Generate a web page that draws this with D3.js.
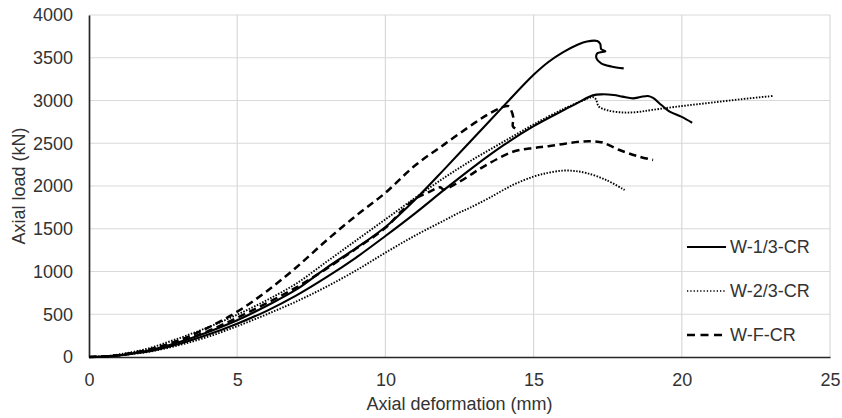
<!DOCTYPE html>
<html>
<head>
<meta charset="utf-8">
<script src="https://cdn.jsdelivr.net/npm/d3@7"></script>
<style>
  body { margin: 0; background: #fff; }
  svg { display: block; font-family: "Liberation Sans", Arial, sans-serif; }
</style>
</head>
<body>
<svg id="chart" width="842" height="418"></svg>
<script>
// Axis ticks and titles
const xTicks = [0, 5, 10, 15, 20, 25];
const yTicks = [0, 500, 1000, 1500, 2000, 2500, 3000, 3500, 4000];
const xTitle = "Axial deformation (mm)";
const yTitle = "Axial load (kN)";

// Load–deformation records, [deformation (mm), load (kN)]
const w13a = [[0,0],[0.5,5],[1,20],[1.5,45],[2,75],[3,170],[4,290],[5,430],[6,600],[7,790],[8,1040],[9,1270],[10,1520],[11,1840],[12,2200],[13,2570],[14,2940],[15,3300],[15.5,3450],[16,3565],[16.5,3655],[16.8,3690],[17.15,3695],[17.25,3660],[17.28,3600],[17.42,3575],[17.15,3552],[17.12,3495],[17.28,3435],[17.62,3398],[18.04,3376]];
const w13b = [[0,0],[0.5,5],[1,18],[1.5,40],[2,65],[3,150],[4,260],[5,390],[6,540],[7,720],[8,930],[9,1160],[10,1415],[11,1680],[12,1960],[13,2230],[14,2480],[15,2700],[16,2885],[16.5,2975],[17,3060],[17.3,3072],[17.7,3064],[18,3045],[18.35,3025],[18.6,3040],[18.86,3053],[19.03,3030],[19.31,2947],[19.59,2869],[19.98,2811],[20.35,2740]];
const w23a = [[0,0],[0.5,8],[1,30],[1.5,60],[2,100],[3,215],[4,345],[5,495],[6,665],[7,860],[8,1110],[9,1360],[10,1610],[11,1860],[12,2100],[13,2320],[14,2520],[15,2720],[16,2900],[16.6,2990],[17,3040],[17.1,3015],[17.2,2930],[17.5,2885],[18,2860],[18.5,2865],[19,2890],[20,2935],[21,2975],[22,3015],[23.07,3053]];
const w23b = [[0,0],[0.5,5],[1,18],[1.5,38],[2,60],[3,135],[4,235],[5,360],[6,500],[7,650],[8,820],[9,1010],[10,1220],[11,1420],[12,1600],[12.5,1690],[12.85,1745],[13.5,1860],[14.3,2012],[15,2110],[15.5,2155],[16,2180],[16.4,2175],[16.8,2150],[17.45,2070],[18.07,1953]];
const wfa = [[0,0],[0.5,6],[1,22],[1.5,50],[2,85],[3,190],[4,340],[5,530],[6,770],[7,1050],[8,1360],[9,1650],[10,1920],[11,2240],[12,2490],[13,2735],[13.5,2845],[13.9,2915],[14.15,2935],[14.25,2880],[14.32,2790],[14.3,2700],[14.45,2655]];
const wfb = [[0,0],[0.5,6],[1,22],[1.5,48],[2,80],[3,175],[4,300],[5,460],[6,630],[7,815],[8,1030],[9,1265],[10,1510],[10.5,1690],[11,1850],[11.5,1935],[11.85,1985],[11.95,1960],[12.5,2050],[13,2160],[13.4,2245],[14.3,2400],[15,2445],[15.5,2465],[16.55,2518],[17,2522],[17.34,2507],[17.9,2421],[18.5,2350],[19.03,2304]];

// Legend groups: one name per line style, two specimens each
const groupNames = ["W-1/3-CR", "W-2/3-CR", "W-F-CR"];
const groupRecords = [[w13a, w13b], [w23a, w23b], [wfa, wfb]];

const styles = [
  { width: 2.1, dash: null, legendWidth: 2, legendDash: null },
  { width: 1.9, dash: "1.5 1.5", legendWidth: 1.4, legendDash: "1.3 2" },
  { width: 2.5, dash: "7.5 4.5", legendWidth: 2.5, legendDash: "8 5.5" }
];

const W = 842, H = 418;
const margin = { top: 15, right: 12, bottom: 61, left: 89 };
const svg = d3.select("#chart");

const x = d3.scaleLinear().domain([0, 25]).range([margin.left, W - margin.right]);
const y = d3.scaleLinear().domain([0, 4000]).range([H - margin.bottom, margin.top]);

const gridColor = "#d9d9d9";
const textColor = "#333";
const axisColor = "#262626";

// Gridlines
svg.append("g").selectAll("line").data(yTicks.filter(d => d > 0)).join("line")
  .attr("x1", x(0)).attr("x2", x(25))
  .attr("y1", d => y(d)).attr("y2", d => y(d))
  .attr("stroke", gridColor).attr("stroke-width", 1.2);
svg.append("g").selectAll("line").data(xTicks.filter(d => d > 0)).join("line")
  .attr("x1", d => x(d)).attr("x2", d => x(d))
  .attr("y1", y(0)).attr("y2", y(4000))
  .attr("stroke", gridColor).attr("stroke-width", 1.2);

// Axes
const xAxis = svg.append("g")
  .attr("transform", `translate(0,${y(0)})`)
  .call(d3.axisBottom(x).tickValues(xTicks).tickSize(0).tickPadding(16).tickFormat(d3.format("d")));
const yAxis = svg.append("g")
  .attr("transform", `translate(${x(0)},0)`)
  .call(d3.axisLeft(y).tickValues(yTicks).tickSize(0).tickPadding(16).tickFormat(d3.format("d")));
[xAxis, yAxis].forEach(g => {
  g.select(".domain").attr("stroke", axisColor).attr("stroke-width", 1.7);
  g.selectAll("text").attr("fill", textColor).attr("font-size", 18)
    .attr("font-family", '"Liberation Sans", Arial, sans-serif');
});

// Axis titles
svg.append("text")
  .attr("x", (x(0) + x(25)) / 2).attr("y", 410)
  .attr("text-anchor", "middle").attr("font-size", 18).attr("fill", textColor)
  .text(xTitle);
svg.append("text")
  .attr("transform", `translate(25,${(y(0) + y(4000)) / 2}) rotate(-90)`)
  .attr("text-anchor", "middle").attr("font-size", 18).attr("fill", textColor)
  .text(yTitle);

// Curves
const line = d3.line()
  .x(d => x(d[0])).y(d => y(d[1]))
  .curve(d3.curveCatmullRom.alpha(0.5));

groupRecords.forEach((recs, gi) => {
  const s = styles[gi];
  recs.forEach(rec => {
    svg.append("path")
      .datum(rec)
      .attr("d", line)
      .attr("fill", "none")
      .attr("stroke", "#000")
      .attr("stroke-width", s.width)
      .attr("stroke-dasharray", s.dash)
      .attr("stroke-linejoin", "round");
  });
});

// Legend
const legendX = 687, legendY0 = 247, legendStep = 44;
const legend = svg.append("g");
groupNames.forEach((name, i) => {
  const s = styles[i];
  const ly = legendY0 + i * legendStep;
  legend.append("line")
    .attr("x1", legendX).attr("x2", legendX + 39)
    .attr("y1", ly).attr("y2", ly)
    .attr("stroke", "#000")
    .attr("stroke-width", s.legendWidth)
    .attr("stroke-dasharray", s.legendDash);
  legend.append("text")
    .attr("x", legendX + 43).attr("y", ly).attr("dy", "0.36em")
    .attr("font-size", 18).attr("fill", textColor)
    .text(name);
});
</script>
</body>
</html>
